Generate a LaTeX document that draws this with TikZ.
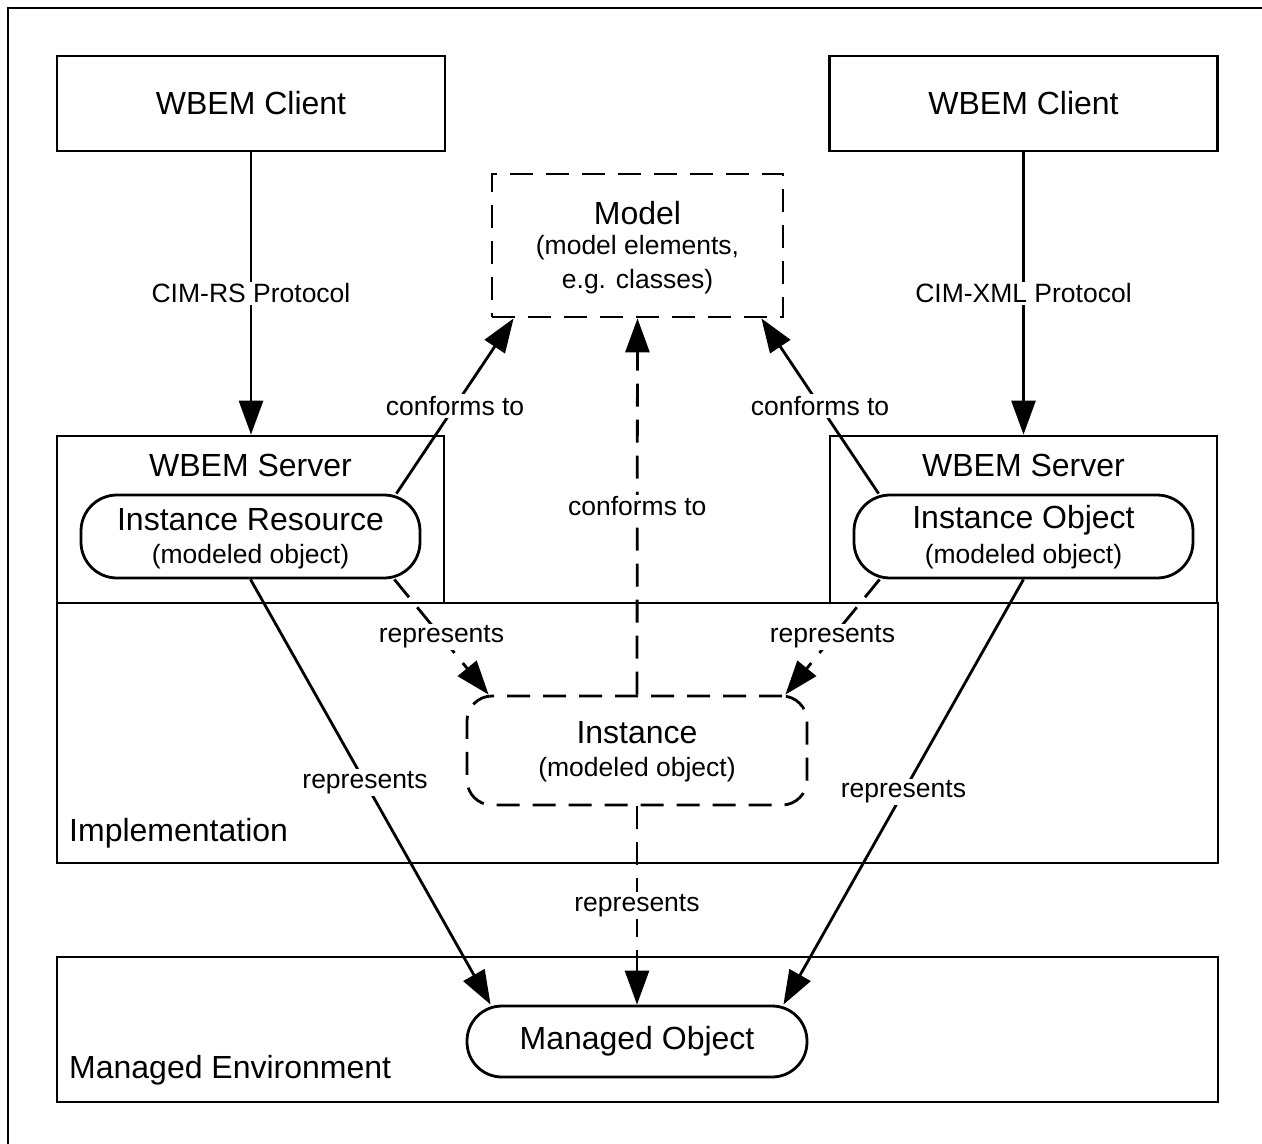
\documentclass[tikz,border=0pt]{standalone}
\usepackage{fontspec}
\setmainfont{Liberation Sans}
\usetikzlibrary{arrows.meta}
\newcommand\fbig{\fontsize{32}{38}\selectfont}
\newcommand\fsmall{\fontsize{26.5}{32}\selectfont}
\begin{document}
\begin{tikzpicture}[x=1pt,y=-1pt,
  lw/.style={line width=2.8pt},
  boxr/.style={draw, lw, rectangle, inner sep=0pt},
  dsh/.style={dash pattern=on 23pt off 13pt},
  conn/.style={lw, -{Triangle[length=34pt,width=24pt]}},
  lbl/.style={fill=white, inner sep=2pt, font=\fsmall},
  big/.style={font=\fbig, inner sep=0pt},
  small/.style={font=\fsmall, inner sep=0pt}]
\useasboundingbox (0,0) rectangle (1262,1144);
% outer frame (only left and top edges visible)
\draw[line width=2pt] (8,1144) -- (8,8) -- (1262,8);

% containers
\node[boxr, minimum width=1161pt, minimum height=260pt] (impl) at (637.5,733) {};
\node[boxr, minimum width=1161pt, minimum height=145pt] (env) at (637.5,1029.5) {};
\node[boxr, minimum width=387pt, minimum height=167pt] (s1) at (250.5,519.5) {};
\node[boxr, minimum width=387pt, minimum height=167pt] (s2) at (1023.5,519.5) {};

% clients
\node[boxr, minimum width=388pt, minimum height=95pt, font=\fbig] (c1) at (251,103.5) {WBEM Client};
\node[boxr, minimum width=388pt, minimum height=95pt, font=\fbig] (c2) at (1023.5,103.5) {WBEM Client};

% model
\node[boxr, dsh, minimum width=291pt, minimum height=143pt] (model) at (637.5,245.5) {};
\node[big] (tmodel) at (637.5,213) {Model};
\node[small] (tmodel2) at (637.5,248) {(model elements,};
\node[small] (tmodel3) at (637.5,282) {e.g. classes)};

% servers' contents
\node[big] (ts1) at (250.5,465) {WBEM Server};
\node[big] (ts2) at (1023.5,465) {WBEM Server};
\node[boxr, rounded corners=36pt, minimum width=339pt, minimum height=83pt] (ir) at (250.5,536.5) {};
\node[big] (tir) at (250.5,520) {Instance Resource};
\node[small] (tir2) at (250.5,557) {(modeled object)};
\node[boxr, rounded corners=36pt, minimum width=339pt, minimum height=83pt] (io) at (1023.5,536.5) {};
\node[big] (tio) at (1023.5,520) {Instance Object};
\node[small] (tio2) at (1023.5,557) {(modeled object)};

% instance
\node[boxr, dsh, rounded corners=25pt, minimum width=340pt, minimum height=109pt] (inst) at (637,750.5) {};
\node[big] (tinst) at (637,733) {Instance};
\node[small] (tinst2) at (637,770) {(modeled object)};

% managed object
\node[boxr, rounded corners=35pt, minimum width=340pt, minimum height=71pt, font=\fbig] (mo) at (637,1041.5) {Managed Object};

% area labels
\node[big, anchor=west] (timpl) at (69,833) {Implementation};
\node[big, anchor=west] (tenv) at (69,1070) {Managed Environment};

% protocols
\draw[conn] (c1.south) -- (c1.south |- s1.north) node[lbl, midway] (l1) {CIM-RS Protocol};
\draw[conn] (c2.south) -- (c2.south |- s2.north) node[lbl, midway] (l2) {CIM-XML Protocol};

% conforms to
\draw[conn] ([xshift=-25pt]ir.north east) -- ([xshift=23pt]model.south west) node[lbl, midway] (l3) {conforms to};
\draw[conn] ([xshift=26pt]io.north west) -- ([xshift=-23pt]model.south east) node[lbl, midway] (l4) {conforms to};
\draw[conn, dsh] (inst.north) -- (model.south) node[lbl, midway] (l5) {conforms to};

% represents (to instance)
\draw[conn, dsh] ([xshift=-27pt]ir.south east) -- ([xshift=23pt]inst.north west) node[lbl, midway] (l6) {represents};
\draw[conn, dsh] ([xshift=27pt]io.south west) -- ([xshift=-23pt]inst.north east) node[lbl, midway] (l7) {represents};

% represents (to managed object)
\draw[conn] (ir.south) -- ([xshift=25pt]mo.north west) node[lbl, pos=0.477] (l8) {represents};
\draw[conn] (io.south) -- ([xshift=-25pt]mo.north east) node[lbl, pos=0.5] (l9) {represents};
\draw[conn, dsh] (inst.south) -- (mo.north) node[lbl, midway] (l10) {represents};
\end{tikzpicture}
\end{document}
